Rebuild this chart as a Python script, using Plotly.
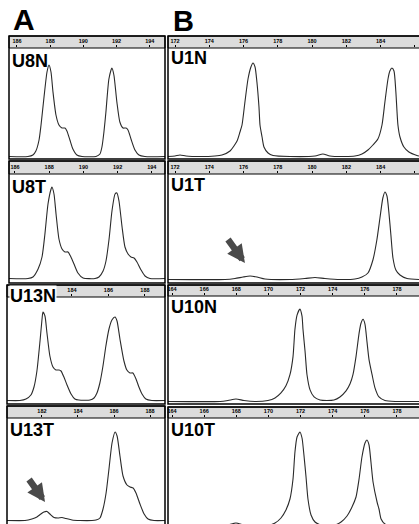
import plotly.graph_objects as go

W, H = 419, 524

# ---------------- data (size in bp, signal in relative units) ----------------
u8n_bp = [185.52, 186.66, 186.96, 187.14, 187.33, 187.45, 187.63, 187.81, 187.93, 188.05,
          188.17, 188.35, 188.53, 188.71, 188.89, 189.01, 189.19, 189.37, 189.61, 189.92,
          190.76, 191.0, 191.12, 191.24, 191.36, 191.54, 191.72, 191.84, 192.02, 192.20,
          192.39, 192.57, 192.69, 192.87, 193.11, 193.35, 193.71, 194.92]
u8n_rfu = [0.5, 0.5, 2, 6, 17, 32, 60, 85, 92, 85,
           65, 42, 32, 29, 29, 26, 17, 8, 2, 0.5,
           0.5, 3, 10, 25, 45, 78, 89, 82, 55, 35,
           29, 29, 27, 18, 7, 2, 0.5, 0.5]

u8t_bp = [185.65, 186.76, 187.05, 187.35, 187.58, 187.75, 187.93, 188.11, 188.16, 188.28,
          188.40, 188.57, 188.75, 188.92, 189.10, 189.27, 189.45, 189.68, 189.98, 190.68,
          190.91, 191.15, 191.32, 191.50, 191.67, 191.85, 191.96, 192.08, 192.26, 192.43,
          192.61, 192.78, 192.96, 193.13, 193.37, 193.60, 193.89, 194.77]
u8t_rfu = [0.5, 0.5, 2, 10, 22, 45, 75, 90, 92, 85,
           65, 40, 30, 27, 27, 22, 15, 6, 1, 0.5,
           2, 8, 18, 40, 68, 85, 86, 78, 52, 32,
           25, 22, 21, 17, 9, 3, 0.5, 0.5]

u13n_bp = [180.44, 181.15, 181.48, 181.75, 181.92, 182.08, 182.25, 182.36, 182.41, 182.52,
           182.63, 182.79, 182.96, 183.12, 183.29, 183.40, 183.56, 183.73, 183.95, 184.16,
           184.38, 184.99, 185.21, 185.37, 185.53, 185.70, 185.86, 186.03, 186.19, 186.36,
           186.47, 186.63, 186.85, 187.01, 187.18, 187.34, 187.51, 187.67, 187.84, 188.05,
           188.38, 189.10]
u13n_rfu = [0.5, 0.5, 2, 6, 14, 30, 60, 82, 89, 85,
            68, 45, 34, 31, 31, 30, 24, 16, 7, 2,
            1, 1, 3, 8, 18, 35, 55, 72, 81, 84,
            80, 62, 40, 31, 28, 28, 22, 14, 7, 2,
            0.5, 0.5]

u13t_bp = [180.06, 181.06, 181.44, 181.72, 181.94, 182.11, 182.28, 182.44, 182.67, 182.89,
           183.11, 183.33, 183.67, 184.11, 184.78, 185.0, 185.22, 185.39, 185.56, 185.72,
           185.89, 186.06, 186.17, 186.33, 186.5, 186.72, 186.89, 187.06, 187.22, 187.44,
           187.67, 187.89, 188.22, 188.83]
u13t_rfu = [0.5, 0.5, 2, 4, 7, 9, 9.5, 7, 3.5, 3,
            3.5, 2.5, 1, 0.5, 0.5, 1, 3, 12, 28, 52,
            78, 89, 85, 65, 45, 36, 34, 33, 28, 17,
            7, 2, 0.5, 0.5]

u1n_bp = [171.59, 172.0, 172.29, 172.64, 173.46, 174.33, 174.74, 175.21, 175.62, 175.79,
          175.91, 176.08, 176.26, 176.43, 176.55, 176.67, 176.78, 176.90, 176.96, 177.08,
          177.19, 177.43, 177.72, 178.71, 180.17, 180.63, 181.04, 181.92, 182.50, 182.91,
          183.26, 183.55, 183.84, 184.08, 184.25, 184.43, 184.54, 184.66, 184.78, 184.89,
          185.01, 185.13, 185.36, 185.65, 186.12, 186.24]
u1n_rfu = [0.5, 1, 2, 1, 0.5, 1, 2, 6, 16, 25,
           32, 55, 78, 90, 94, 90, 75, 50, 32, 20,
           10, 4, 1.5, 0.5, 1, 3, 1, 0.5, 1, 3,
           7, 12, 18, 32, 55, 78, 86, 89, 86, 65,
           32, 20, 10, 5, 1.5, 1]

u1t_bp = [171.59, 174.92, 175.50, 175.97, 176.38, 176.78, 177.25, 178.71, 179.58, 180.17,
          180.75, 181.63, 182.50, 182.91, 183.26, 183.55, 183.78, 183.96, 184.13, 184.25,
          184.37, 184.48, 184.60, 184.72, 184.89, 185.13, 185.54, 186.24]
u1t_rfu = [0.5, 0.5, 1.5, 3, 4, 3, 1, 0.5, 1.5, 2.5,
           1.5, 0.5, 1, 3, 7, 20, 40, 62, 82, 88,
           84, 68, 45, 22, 10, 5, 1.5, 0.5]

u10n_bp = [163.75, 166.99, 167.48, 167.98, 168.48, 169.16, 169.97, 170.41, 170.78, 171.09,
           171.34, 171.53, 171.65, 171.78, 171.96, 172.09, 172.15, 172.28, 172.40, 172.59,
           172.84, 173.21, 173.64, 174.08, 174.45, 174.83, 175.08, 175.26, 175.45, 175.64,
           175.76, 175.89, 176.01, 176.13, 176.26, 176.45, 176.63, 176.88, 177.25, 177.88,
           179.37]
u10n_rfu = [0.5, 0.5, 1.5, 3, 1.5, 0.5, 1.5, 4, 9, 16,
            27, 45, 72, 86, 92, 85, 72, 50, 27, 12,
            5, 2, 1.5, 2, 5, 11, 18, 27, 45, 68,
            78, 82, 77, 60, 42, 27, 14, 5, 1.5, 0.5,
            0.5]

u10t_bp = [163.75, 166.99, 167.48, 167.98, 168.48, 169.16, 169.97, 170.41, 170.78, 171.09,
           171.34, 171.53, 171.65, 171.78, 171.96, 172.09, 172.21, 172.34, 172.46, 172.65,
           172.90, 173.27, 173.71, 174.14, 174.52, 174.89, 175.20, 175.45, 175.64, 175.82,
           176.01, 176.13, 176.26, 176.38, 176.51, 176.76, 176.88, 177.01, 177.25, 177.63,
           178.25, 179.37]
u10t_rfu = [0.5, 0.5, 2, 4, 2, 0.5, 1.5, 4, 9, 17,
            28, 48, 75, 90, 95, 89, 72, 50, 28, 12,
            5, 2, 1.5, 2, 5, 11, 20, 30, 48, 70,
            84, 87, 82, 65, 45, 25, 18, 8, 3, 1,
            0.5, 0.5]

ticks_u8 = [186, 188, 190, 192, 194]
ticks_u13n = [184, 186, 188]
ticks_u13t = [182, 184, 186, 188]
ticks_u1 = [172, 174, 176, 178, 180, 182, 184, 186]
ticks_u10 = [164, 166, 168, 170, 172, 174, 176, 178]

# ---------------- layout geometry (pixels) ----------------
# label, x, y, ticks, x-range, y-range, left, right, ruler_top, plot_top, plot_bottom, label_y
panels = [
    ("U8N", u8n_bp, u8n_rfu, ticks_u8, [185.52, 194.92], [-2, 109], 9, 165, 36, 48, 159, 61),
    ("U1N", u1n_bp, u1n_rfu, ticks_u1, [171.59, 186.24], [-2, 109], 168, 419, 36, 48, 159, 58),
    ("U8T", u8t_bp, u8t_rfu, ticks_u8, [185.65, 194.77], [-4, 105], 9, 165, 161, 174, 283, 187),
    ("U1T", u1t_bp, u1t_rfu, ticks_u1, [171.59, 186.24], [-3, 106], 168, 419, 161, 174, 283, 185),
    ("U13N", u13n_bp, u13n_rfu, ticks_u13n, [180.44, 189.10], [-3, 104], 7, 165, 285, 297, 404, 296),
    ("U10N", u10n_bp, u10n_rfu, ticks_u10, [163.75, 179.37], [-2, 105], 168, 419, 285, 296, 404, 307),
    ("U13T", u13t_bp, u13t_rfu, ticks_u13t, [180.06, 188.83], [-3, 103], 7, 165, 406, 418, 524, 430),
    ("U10T", u10t_bp, u10t_rfu, ticks_u10, [163.75, 179.37], [3, 109], 168, 419, 407, 418, 524, 430),
]

FONT = "Liberation Sans, Arial, sans-serif"


def px_x(p):
    return p / W


def px_y(p):
    return 1 - p / H


fig = go.Figure()
shapes = []
annotations = []
layout_axes = {}

for i, (lab, xs, ys, tv, xr, yr, left, right, rtop, ptop, pbot, laby) in enumerate(panels):
    n = i + 1
    xa = f"x{n}"
    ya = f"y{n}"
    fig.add_trace(go.Scatter(
        x=xs, y=ys, mode="lines", xaxis=xa, yaxis=ya, showlegend=False,
        hoverinfo="skip",
        line=dict(color="#2a2a2a", width=1.1, shape="spline", smoothing=0.6),
    ))
    layout_axes[f"xaxis{n}"] = dict(
        domain=[px_x(left), min(1.0, px_x(right))], range=xr, anchor=ya, side="top",
        tickvals=tv, ticks="outside", ticklen=2, tickwidth=1, tickcolor="#000",
        tickfont=dict(family=FONT, size=5.5, color="#000", weight="bold"),
        showgrid=False, zeroline=False, showline=False, fixedrange=True,
    )
    layout_axes[f"yaxis{n}"] = dict(
        domain=[max(0.0, px_y(pbot)), px_y(ptop)], range=yr, anchor=xa,
        visible=False, fixedrange=True,
    )
    r_ext = right + 6 if right >= W else right
    b_ext = pbot + 6 if pbot >= H else pbot
    # ruler strip
    shapes.append(dict(type="rect", xref="paper", yref="paper", layer="below",
                       x0=px_x(left), x1=px_x(r_ext), y0=px_y(ptop), y1=px_y(rtop),
                       fillcolor="#dcdcdc", line=dict(color="#000", width=1)))
    # panel frame
    shapes.append(dict(type="rect", xref="paper", yref="paper", layer="above",
                       x0=px_x(left), x1=px_x(r_ext), y0=px_y(b_ext), y1=px_y(rtop),
                       fillcolor="rgba(0,0,0,0)", line=dict(color="#000", width=1.5)))
    annotations.append(dict(
        text=lab, xref="paper", yref="paper", x=px_x(left + 2), y=px_y(laby),
        xanchor="left", yanchor="middle", showarrow=False,
        font=dict(family=FONT, size=18, color="#000", weight="bold"),
        bgcolor="#fff" if lab == "U13N" else None, borderpad=0,
    ))

# section letters
annotations.append(dict(text="A", xref="paper", yref="paper", x=px_x(11), y=px_y(20),
                        xanchor="left", yanchor="middle", showarrow=False,
                        font=dict(family=FONT, size=30, color="#000", weight="bold")))
annotations.append(dict(text="B", xref="paper", yref="paper", x=px_x(171), y=px_y(21),
                        xanchor="left", yanchor="middle", showarrow=False,
                        font=dict(family=FONT, size=29, color="#000", weight="bold")))

# arrows pointing at the minor peaks
annotations.append(dict(text="", x=176.08, y=17, xref="x4", yref="y4",
                        ax=-18, ay=-25, showarrow=True, arrowhead=2, arrowsize=0.55,
                        arrowwidth=6.5, arrowcolor="#4a4a4a", standoff=0))
annotations.append(dict(text="", x=182.17, y=19, xref="x7", yref="y7",
                        ax=-17, ay=-24, showarrow=True, arrowhead=2, arrowsize=0.55,
                        arrowwidth=6.5, arrowcolor="#4a4a4a", standoff=0))

fig.update_layout(
    width=W, height=H, margin=dict(l=0, r=0, t=0, b=0),
    paper_bgcolor="#fff", plot_bgcolor="#fff",
    shapes=shapes, annotations=annotations, showlegend=False,
    **layout_axes,
)

fig.write_html("out.html")
